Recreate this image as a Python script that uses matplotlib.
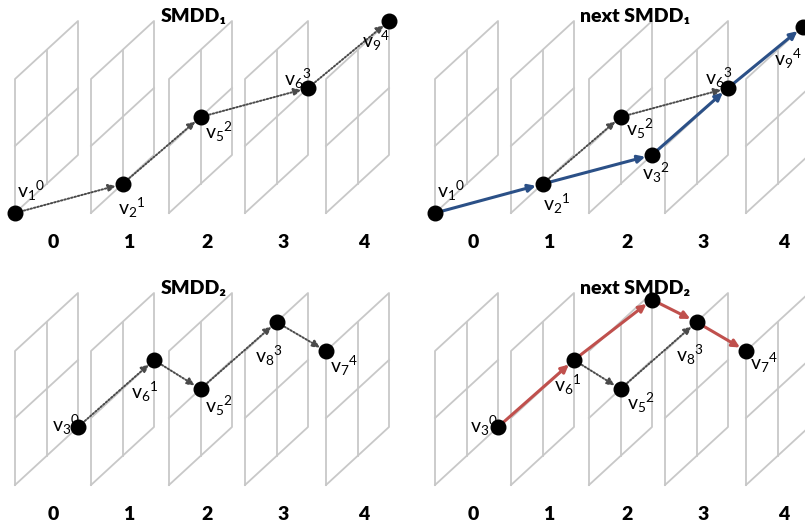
import matplotlib
matplotlib.use("Agg")
import matplotlib.pyplot as plt

plt.rcParams['font.family'] = ['Lato', 'DejaVu Sans']

# 每个小图的内容: 节点 (下标, 上标, 所在面板, u, v)，u/v 为面板内网格坐标
frame_ids = ['0', '1', '2', '3', '4']

smdd1_nodes = [('1', '0', 0, 0.0, 0.0), ('2', '1', 1, 0.5, 0.0), ('5', '2', 2, 0.5, 0.5),
               ('6', '3', 3, 1.0, 0.5), ('9', '4', 4, 1.0, 1.0)]
smdd1_dotted = [(0, 1), (1, 2), (2, 3), (3, 4)]

next1_nodes = [('1', '0', 0, 0.0, 0.0), ('2', '1', 1, 0.5, 0.0), ('5', '2', 2, 0.5, 0.5),
               ('3', '2', 2, 1.0, 0.0), ('6', '3', 3, 1.0, 0.5), ('9', '4', 4, 0.9, 1.0)]
next1_dotted = [(1, 2), (2, 4)]
next1_solid = [(0, 1), (1, 3), (3, 4), (4, 5)]

smdd2_nodes = [('3', '0', 0, 1.0, 0.0), ('6', '1', 1, 1.0, 0.5), ('5', '2', 2, 0.5, 0.5),
               ('8', '3', 3, 0.5, 1.0), ('7', '4', 4, 0.0, 1.0)]
smdd2_dotted = [(0, 1), (1, 2), (2, 3), (3, 4)]

next2_nodes = [('3', '0', 0, 1.0, 0.0), ('6', '1', 1, 1.0, 0.5), ('5', '2', 2, 0.5, 0.5),
               (None, None, 2, 1.0, 0.95), ('8', '3', 3, 0.5, 1.0), ('7', '4', 4, 0.0, 1.0)]
next2_dotted = [(1, 2), (2, 4)]
next2_solid = [(0, 1), (1, 3), (3, 4), (4, 5)]

# 标签相对节点的偏移 (像素)
smdd1_lab = [(2, -22), (-5, 24), (4, 15), (-24, -9), (-27, 20)]
next1_lab = [(2, -22), (0, 20), (5, 12), (-10, 18), (-23, -10), (-29, 32)]
smdd2_lab = [(-26, -2), (-23, 32), (4, 17), (-22, 34), (4, 15)]
next2_lab = [(-28, -1), (-20, 25), (6, 14), (0, 0), (-21, 33), (4, 12)]

# 面板几何 (像素)
PANEL_X = [15, 91, 169, 245, 326]
PANEL_BOTTOM = 213
PW, PH, SKEW = 63, 134, 58
GRID_COLOR = '#c8c8c8'
BLUE = '#2b5087'
RED = '#c0504d'
DOT = '#4a4a4a'


def to_px(ox, oy, panel, u, v):
    x = ox + PANEL_X[panel] + u * PW
    y = oy + PANEL_BOTTOM - u * SKEW - v * PH
    return x, y


def draw_panels(ax, ox, oy):
    for k in range(len(frame_ids)):
        # 外框
        corners = [(0, 0), (0, 1), (1, 1), (1, 0), (0, 0)]
        pts = [to_px(ox, oy, k, u, v) for u, v in corners]
        ax.plot([p[0] for p in pts], [p[1] for p in pts], color=GRID_COLOR, lw=1.3, zorder=1)
        # 中线
        a, b = to_px(ox, oy, k, 0.5, 0), to_px(ox, oy, k, 0.5, 1)
        ax.plot([a[0], b[0]], [a[1], b[1]], color=GRID_COLOR, lw=1.3, zorder=1)
        a, b = to_px(ox, oy, k, 0, 0.5), to_px(ox, oy, k, 1, 0.5)
        ax.plot([a[0], b[0]], [a[1], b[1]], color=GRID_COLOR, lw=1.3, zorder=1)
        # 面板编号
        lx, _ = to_px(ox, oy, k, 0.6, 0)
        ax.text(lx, oy + 243, frame_ids[k], fontsize=14, fontweight='heavy',
                ha='center', va='center', color='black')


def draw_arrow(ax, p0, p1, color, lw, ls, scale):
    ax.annotate('', xy=p1, xytext=p0, annotation_clip=False,
                arrowprops=dict(arrowstyle='-|>', color=color, lw=lw, linestyle=ls,
                                shrinkA=4, shrinkB=5, mutation_scale=scale),
                zorder=3)


def draw_quadrant(ax, ox, oy, title, tx, nodes, labels, dotted, solid=None, solid_color=None):
    draw_panels(ax, ox, oy)
    pts = [to_px(ox, oy, n[2], n[3], n[4]) for n in nodes]
    for i, j in dotted:
        draw_arrow(ax, pts[i], pts[j], DOT, 1.4, (0, (0.8, 1.0)), 11)
    if solid:
        for i, j in solid:
            draw_arrow(ax, pts[i], pts[j], solid_color, 2.2, '-', 11)
    for (sub, sup, _, _, _), (x, y), off in zip(nodes, pts, labels):
        ax.plot(x, y, 'o', color='black', ms=10.5, zorder=5, clip_on=False)
        if sub is None:
            continue
        ax.text(x + off[0], y + off[1], r'$\mathregular{v_{%s}{}^{%s}}$' % (sub, sup),
                fontsize=14, ha='left', va='center', zorder=6)
    ax.text(ox + tx, oy + 16, title, fontsize=14, fontweight='heavy',
            ha='center', va='center')


fig = plt.figure(figsize=(8.05, 5.29), dpi=100)
ax = fig.add_axes([0, 0, 1, 1])
ax.set_xlim(0, 805)
ax.set_ylim(529, 0)
ax.axis('off')

draw_quadrant(ax, 0, 0, 'SMDD₁', 194, smdd1_nodes, smdd1_lab, smdd1_dotted)
draw_quadrant(ax, 420, 0, 'next SMDD₁', 215, next1_nodes, next1_lab, next1_dotted,
              next1_solid, BLUE)
draw_quadrant(ax, 0, 272, 'SMDD₂', 194, smdd2_nodes, smdd2_lab, smdd2_dotted)
draw_quadrant(ax, 420, 272, 'next SMDD₂', 215, next2_nodes, next2_lab, next2_dotted,
              next2_solid, RED)

fig.savefig('out.png', dpi=100)
